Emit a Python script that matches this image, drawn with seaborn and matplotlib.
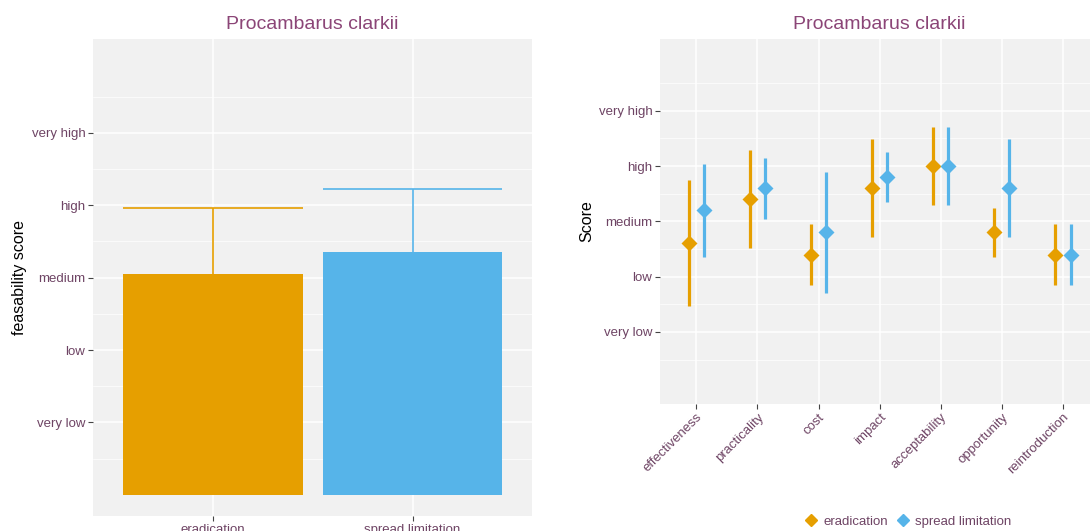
import numpy as np
import pandas as pd
import matplotlib
matplotlib.use("Agg")
import matplotlib.pyplot as plt
from matplotlib.lines import Line2D
import seaborn as sns

# left panel: overall feasibility per strategy
strategies = ["eradication", "spread limitation"]
bar_means = [3.05, 3.36]
bar_sd = [0.91, 0.86]

# right panel: score per criterion and strategy (mean +/- sd)
criteria = ["effectiveness", "practicality", "cost", "impact",
            "acceptability", "opportunity", "reintroduction"]
erad_mean = [2.6, 3.4, 2.4, 3.6, 4.0, 2.8, 2.4]
erad_sd = [1.14, 0.89, 0.55, 0.89, 0.71, 0.45, 0.55]
spread_mean = [3.2, 3.6, 2.8, 3.8, 4.0, 3.6, 2.4]
spread_sd = [0.84, 0.55, 1.10, 0.45, 0.71, 0.89, 0.55]

score_labels = ["very low", "low", "medium", "high", "very high"]
score_ticks = [1, 2, 3, 4, 5]

colors = ["#E69F00", "#56B4E9"]
title_col = "#8B4577"
tick_col = "#6E4464"

sns.set_theme(style="darkgrid", rc={
    "axes.facecolor": "#F1F1F1",
    "grid.color": "white",
    "axes.edgecolor": "none",
    "xtick.bottom": True,
    "ytick.left": True,
    "xtick.color": "#444444",
    "ytick.color": "#444444",
})
plt.rcParams["font.family"] = ["Liberation Sans", "DejaVu Sans"]

fig = plt.figure(figsize=(10.9, 5.31), dpi=100)
ax1 = fig.add_axes([0.0851, 0.0275, 0.4034, 0.8992])
ax2 = fig.add_axes([0.6052, 0.2397, 0.4036, 0.6868])

# ---- left: bars with upper error whisker
sns.barplot(x=strategies, y=bar_means, hue=strategies, palette=colors,
            width=0.9, saturation=1, legend=False, ax=ax1, zorder=2,
            linewidth=0, edgecolor="none")
xpos = np.arange(len(strategies))
bm = np.array(bar_means)
bs = np.array(bar_sd)
ax1.vlines(xpos, bm - bs, bm + bs, colors=colors, lw=1.2, zorder=1)
ax1.hlines(bm + bs, xpos - 0.45, xpos + 0.45, colors=colors, lw=1.2, zorder=1)

# ---- right: points with sd lines
df = pd.DataFrame({
    "criterion": criteria * 2,
    "strategy": ["eradication"] * len(criteria) + ["spread limitation"] * len(criteria),
    "mean": erad_mean + spread_mean,
    "sd": erad_sd + spread_sd,
})
offsets = {"eradication": -0.125, "spread limitation": 0.125}
for (name, col) in zip(strategies, colors):
    sub = df[df["strategy"] == name]
    xs = np.arange(len(criteria)) + offsets[name]
    ax2.vlines(xs, sub["mean"] - sub["sd"], sub["mean"] + sub["sd"],
               colors=col, lw=2.3, zorder=2)
sns.pointplot(data=df, x="criterion", y="mean", hue="strategy",
              order=criteria, hue_order=strategies, palette=colors,
              dodge=0.25, linestyle="none", markers="D", markersize=6,
              errorbar=None, legend=False, ax=ax2, zorder=3)

for ax, n in [(ax1, len(strategies)), (ax2, len(criteria))]:
    ax.set_ylim(-0.3, 6.3)
    ax.set_xlim(-0.6, n - 0.4)
    ax.set_yticks(score_ticks)
    ax.set_yticklabels(score_labels)
    ax.set_yticks([0.5, 1.5, 2.5, 3.5, 4.5, 5.5], minor=True)
    ax.grid(True, which="major", color="white", lw=1.1)
    ax.grid(True, which="minor", axis="y", color="white", lw=0.5)
    ax.set_axisbelow(True)
    ax.tick_params(axis="both", which="major", length=3.5, width=0.8,
                   labelsize=9.5, labelcolor=tick_col, pad=1.8)
    ax.tick_params(axis="both", which="minor", length=0)
    ax.set_xlabel("")
    ax.set_title("Procambarus clarkii", color=title_col, fontsize=14, pad=7)

ax1.set_ylabel("feasability score", fontsize=11.5, color="black")
ax1.yaxis.set_label_coords(-0.15, 0.5)
ax2.set_ylabel("Score", fontsize=11.5, color="black")
ax2.yaxis.set_label_coords(-0.149, 0.5)

for lab in ax2.get_xticklabels():
    lab.set_rotation(45)
    lab.set_ha("right")
    lab.set_va("top")
    lab.set_rotation_mode("anchor")

handles = [Line2D([], [], marker="D", linestyle="none", color=c, markersize=6)
           for c in colors]
fig.legend(handles, strategies, loc="center", bbox_to_anchor=(0.833, 0.017),
           ncol=2, frameon=False, fontsize=9.5, handletextpad=0.45,
           columnspacing=0.6, handlelength=1.0, labelcolor=tick_col)

fig.savefig("out.png", dpi=100)
